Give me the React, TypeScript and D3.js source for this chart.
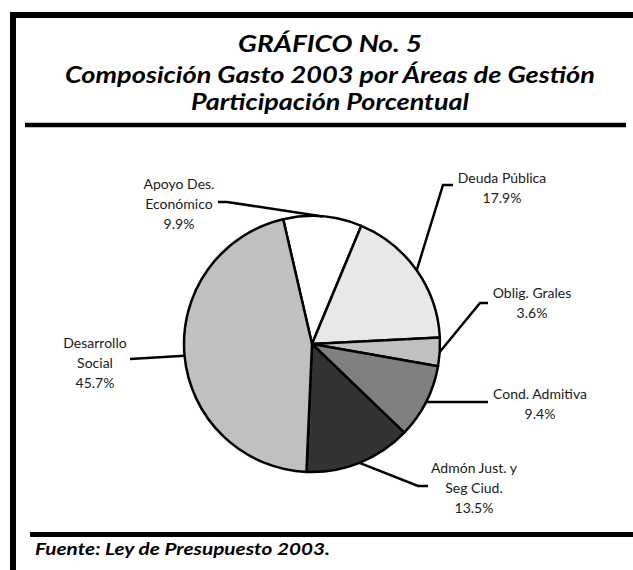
import React from 'react'
import * as d3 from 'd3'

const categories = ['Apoyo Des. Económico', 'Deuda Pública', 'Oblig. Grales', 'Cond. Admitiva', 'Admón Just. y Seg Ciud.', 'Desarrollo Social']
const shares = [9.9, 17.9, 3.6, 9.4, 13.5, 45.7]
const labelLines = [
  ['Apoyo Des.', 'Económico', '9.9%'],
  ['Deuda Pública', '17.9%'],
  ['Oblig. Grales', '3.6%'],
  ['Cond. Admitiva', '9.4%'],
  ['Admón Just. y', 'Seg Ciud.', '13.5%'],
  ['Desarrollo', 'Social', '45.7%'],
]
const fills = ['#ffffff', '#e8e8e8', '#c0c0c0', '#808080', '#333333', '#c0c0c0']

// label layout: text centre x, first baseline y, leader start point and optional elbow
const labelLayout = [
  { x: 179, y: 189, from: [218, 202], elbow: [227, 202] },
  { x: 502, y: 183, from: [453, 185], elbow: [443, 185] },
  { x: 532, y: 298, from: [488, 303], elbow: [480, 303] },
  { x: 540, y: 399, from: [488, 402], elbow: null },
  { x: 474, y: 473, from: [428, 486], elbow: [418, 486] },
  { x: 95, y: 348, from: [130, 359], elbow: null },
]

const W = 633
const H = 570
const cx = 312
const cy = 344
const R = 128
const startDeg = -13

export default function App() {
  const start = (startDeg * Math.PI) / 180
  const pie = d3.pie<number>().sort(null).value(d => d).startAngle(start).endAngle(start + 2 * Math.PI)
  const arcs = pie(shares)
  const arc = d3.arc<d3.PieArcDatum<number>>().innerRadius(0).outerRadius(R)
  const edge = (a: d3.PieArcDatum<number>) => {
    const m = (a.startAngle + a.endAngle) / 2
    return [cx + R * Math.sin(m), cy - R * Math.cos(m)]
  }
  const font = 'Lato, "Open Sans", sans-serif'

  return (
    <svg width={W} height={H} style={{ position: 'absolute', left: 0, top: 0, background: '#fff' }}>
      {/* frame */}
      <rect x={0} y={0} width={W} height={H} fill="#fff" />
      <line x1={13} y1={15} x2={W} y2={15} stroke="#000" strokeWidth={6} />
      <line x1={13} y1={12} x2={13} y2={H} stroke="#000" strokeWidth={6} />
      <line x1={25} y1={125} x2={626} y2={125} stroke="#000" strokeWidth={4.5} />
      <line x1={30} y1={534.5} x2={W} y2={534.5} stroke="#000" strokeWidth={5} />

      <g fontFamily={font} fontWeight="bold" fontStyle="italic" fill="#000" textAnchor="middle">
        <text x={330} y={52} fontSize={23} textLength={184} lengthAdjust="spacingAndGlyphs">GRÁFICO No. 5</text>
        <text x={330} y={83} fontSize={23} textLength={530} lengthAdjust="spacingAndGlyphs">Composición Gasto 2003 por Áreas de Gestión</text>
        <text x={330} y={110} fontSize={23} textLength={278} lengthAdjust="spacingAndGlyphs">Participación Porcentual</text>
      </g>

      <g transform={`translate(${cx},${cy})`}>
        {arcs.map((a, i) => (
          <path key={categories[i]} d={arc(a) || ''} fill={fills[i]} stroke="#000" strokeWidth={2.5} strokeLinejoin="round" />
        ))}
      </g>

      {arcs.map((a, i) => {
        const l = labelLayout[i]
        const pts = [l.from, ...(l.elbow ? [l.elbow] : []), edge(a)]
        return (
          <path key={'lead' + i} d={d3.line()(pts as [number, number][]) || ''} fill="none" stroke="#000" strokeWidth={2.5} />
        )
      })}

      <g fontFamily={font} fontSize={14} fill="#1a1a1a" textAnchor="middle">
        {labelLines.map((lines, i) =>
          lines.map((t, j) => (
            <text key={i + '-' + j} x={labelLayout[i].x} y={labelLayout[i].y + j * 20}>{t}</text>
          ))
        )}
      </g>

      <text x={35} y={555} fontFamily={font} fontWeight="bold" fontStyle="italic" fontSize={17} textLength={295} lengthAdjust="spacingAndGlyphs">
        Fuente: Ley de Presupuesto 2003.
      </text>
    </svg>
  )
}
